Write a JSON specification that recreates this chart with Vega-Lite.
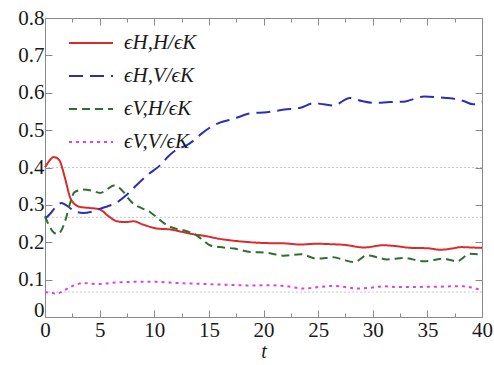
{
  "$schema": "https://vega.github.io/schema/vega-lite/v6.json",
  "width": 437,
  "height": 299,
  "autosize": {"type": "none"},
  "padding": {"left": 45, "top": 18, "right": 12, "bottom": 48},
  "config": {
    "view": {"stroke": "#8a8a8a", "strokeWidth": 1},
    "font": "Liberation Serif",
    "style": {"guide-label": {"font": "Liberation Serif"}, "guide-title": {"font": "Liberation Serif"}},
    "axis": {
      "grid": false,
      "domain": false,
      "tickColor": "#8a8a8a",
      "tickWidth": 1,
      "labelFont": "Liberation Serif",
      "labelFontSize": 21,
      "labelColor": "#1a1a1a",
      "labelPadding": 8,
      "titleFont": "Liberation Serif",
      "titleFontSize": 20,
      "titleFontWeight": "normal",
      "titleColor": "#1a1a1a"
    },
    "legend": {
      "orient": "none",
      "legendX": 23,
      "legendY": 2,
      "padding": 0,
      "symbolType": "stroke",
      "symbolSize": 1936,
      "symbolStrokeWidth": 2,
      "labelFont": "Liberation Serif",
      "labelFontStyle": "italic",
      "labelFontSize": 21,
      "labelColor": "#1a1a1a",
      "labelOffset": 10,
      "rowPadding": -18,
      "title": null
    }
  },
  "datasets": {
    "ref": [{"v": 0.4}, {"v": 0.2667}, {"v": 0.0667}],
    "curves": [
      {"series": "ϵH,H/ϵK", "t": 0, "value": 0.4},
      {"series": "ϵH,H/ϵK", "t": 0.4, "value": 0.418},
      {"series": "ϵH,H/ϵK", "t": 0.8, "value": 0.428},
      {"series": "ϵH,H/ϵK", "t": 1.3, "value": 0.42},
      {"series": "ϵH,H/ϵK", "t": 1.8, "value": 0.375},
      {"series": "ϵH,H/ϵK", "t": 2.3, "value": 0.32},
      {"series": "ϵH,H/ϵK", "t": 2.8, "value": 0.3},
      {"series": "ϵH,H/ϵK", "t": 3.3, "value": 0.294},
      {"series": "ϵH,H/ϵK", "t": 4, "value": 0.292},
      {"series": "ϵH,H/ϵK", "t": 5, "value": 0.288},
      {"series": "ϵH,H/ϵK", "t": 5.8, "value": 0.27},
      {"series": "ϵH,H/ϵK", "t": 6.6, "value": 0.256},
      {"series": "ϵH,H/ϵK", "t": 7.4, "value": 0.254},
      {"series": "ϵH,H/ϵK", "t": 8.1, "value": 0.256},
      {"series": "ϵH,H/ϵK", "t": 9, "value": 0.247},
      {"series": "ϵH,H/ϵK", "t": 10.2, "value": 0.237},
      {"series": "ϵH,H/ϵK", "t": 11.5, "value": 0.234},
      {"series": "ϵH,H/ϵK", "t": 12.5, "value": 0.228},
      {"series": "ϵH,H/ϵK", "t": 13.3, "value": 0.223},
      {"series": "ϵH,H/ϵK", "t": 14.8, "value": 0.216},
      {"series": "ϵH,H/ϵK", "t": 16, "value": 0.209},
      {"series": "ϵH,H/ϵK", "t": 17, "value": 0.205},
      {"series": "ϵH,H/ϵK", "t": 18.8, "value": 0.2},
      {"series": "ϵH,H/ϵK", "t": 20, "value": 0.198},
      {"series": "ϵH,H/ϵK", "t": 21.9, "value": 0.197},
      {"series": "ϵH,H/ϵK", "t": 23.4, "value": 0.194},
      {"series": "ϵH,H/ϵK", "t": 24.9, "value": 0.196},
      {"series": "ϵH,H/ϵK", "t": 26, "value": 0.195},
      {"series": "ϵH,H/ϵK", "t": 27.4, "value": 0.193},
      {"series": "ϵH,H/ϵK", "t": 29.2, "value": 0.186},
      {"series": "ϵH,H/ϵK", "t": 31, "value": 0.192},
      {"series": "ϵH,H/ϵK", "t": 32, "value": 0.19},
      {"series": "ϵH,H/ϵK", "t": 33.5, "value": 0.185},
      {"series": "ϵH,H/ϵK", "t": 35, "value": 0.184},
      {"series": "ϵH,H/ϵK", "t": 36.2, "value": 0.18},
      {"series": "ϵH,H/ϵK", "t": 37.2, "value": 0.183},
      {"series": "ϵH,H/ϵK", "t": 38.1, "value": 0.187},
      {"series": "ϵH,H/ϵK", "t": 39, "value": 0.186},
      {"series": "ϵH,H/ϵK", "t": 40, "value": 0.185},

      {"series": "ϵH,V/ϵK", "t": 0, "value": 0.263},
      {"series": "ϵH,V/ϵK", "t": 0.5, "value": 0.277},
      {"series": "ϵH,V/ϵK", "t": 1.0, "value": 0.295},
      {"series": "ϵH,V/ϵK", "t": 1.5, "value": 0.305},
      {"series": "ϵH,V/ϵK", "t": 2.0, "value": 0.298},
      {"series": "ϵH,V/ϵK", "t": 2.6, "value": 0.285},
      {"series": "ϵH,V/ϵK", "t": 3.5, "value": 0.278},
      {"series": "ϵH,V/ϵK", "t": 4.3, "value": 0.282},
      {"series": "ϵH,V/ϵK", "t": 5.05, "value": 0.29},
      {"series": "ϵH,V/ϵK", "t": 5.8, "value": 0.297},
      {"series": "ϵH,V/ϵK", "t": 6.6, "value": 0.307},
      {"series": "ϵH,V/ϵK", "t": 7.4, "value": 0.325},
      {"series": "ϵH,V/ϵK", "t": 8.1, "value": 0.345},
      {"series": "ϵH,V/ϵK", "t": 9, "value": 0.37},
      {"series": "ϵH,V/ϵK", "t": 9.6, "value": 0.385},
      {"series": "ϵH,V/ϵK", "t": 10.5, "value": 0.405},
      {"series": "ϵH,V/ϵK", "t": 11.3, "value": 0.43},
      {"series": "ϵH,V/ϵK", "t": 12, "value": 0.447},
      {"series": "ϵH,V/ϵK", "t": 13, "value": 0.46},
      {"series": "ϵH,V/ϵK", "t": 13.5, "value": 0.47},
      {"series": "ϵH,V/ϵK", "t": 14.3, "value": 0.49},
      {"series": "ϵH,V/ϵK", "t": 15, "value": 0.505},
      {"series": "ϵH,V/ϵK", "t": 16, "value": 0.52},
      {"series": "ϵH,V/ϵK", "t": 17, "value": 0.528},
      {"series": "ϵH,V/ϵK", "t": 18, "value": 0.538},
      {"series": "ϵH,V/ϵK", "t": 18.8, "value": 0.545},
      {"series": "ϵH,V/ϵK", "t": 20.3, "value": 0.548},
      {"series": "ϵH,V/ϵK", "t": 21.9, "value": 0.555},
      {"series": "ϵH,V/ϵK", "t": 23.4, "value": 0.56},
      {"series": "ϵH,V/ϵK", "t": 24.6, "value": 0.572},
      {"series": "ϵH,V/ϵK", "t": 25.5, "value": 0.569},
      {"series": "ϵH,V/ϵK", "t": 26.4, "value": 0.566},
      {"series": "ϵH,V/ϵK", "t": 27.9, "value": 0.586},
      {"series": "ϵH,V/ϵK", "t": 29, "value": 0.578},
      {"series": "ϵH,V/ϵK", "t": 30.1, "value": 0.573},
      {"series": "ϵH,V/ϵK", "t": 31.6, "value": 0.575},
      {"series": "ϵH,V/ϵK", "t": 32.8, "value": 0.576},
      {"series": "ϵH,V/ϵK", "t": 34.7, "value": 0.59},
      {"series": "ϵH,V/ϵK", "t": 36, "value": 0.588},
      {"series": "ϵH,V/ϵK", "t": 37.1, "value": 0.585},
      {"series": "ϵH,V/ϵK", "t": 38.3, "value": 0.578},
      {"series": "ϵH,V/ϵK", "t": 39.2, "value": 0.569},
      {"series": "ϵH,V/ϵK", "t": 40, "value": 0.576},

      {"series": "ϵV,H/ϵK", "t": 0, "value": 0.27},
      {"series": "ϵV,H/ϵK", "t": 0.46, "value": 0.24},
      {"series": "ϵV,H/ϵK", "t": 0.9, "value": 0.224},
      {"series": "ϵV,H/ϵK", "t": 1.2, "value": 0.222},
      {"series": "ϵV,H/ϵK", "t": 1.6, "value": 0.238},
      {"series": "ϵV,H/ϵK", "t": 1.95, "value": 0.267},
      {"series": "ϵV,H/ϵK", "t": 2.3, "value": 0.305},
      {"series": "ϵV,H/ϵK", "t": 2.7, "value": 0.334},
      {"series": "ϵV,H/ϵK", "t": 3.5, "value": 0.341},
      {"series": "ϵV,H/ϵK", "t": 4.3, "value": 0.338},
      {"series": "ϵV,H/ϵK", "t": 5.05, "value": 0.332},
      {"series": "ϵV,H/ϵK", "t": 5.7, "value": 0.342},
      {"series": "ϵV,H/ϵK", "t": 6.3, "value": 0.352},
      {"series": "ϵV,H/ϵK", "t": 6.8, "value": 0.346},
      {"series": "ϵV,H/ϵK", "t": 7.2, "value": 0.334},
      {"series": "ϵV,H/ϵK", "t": 7.6, "value": 0.318},
      {"series": "ϵV,H/ϵK", "t": 8.1, "value": 0.303},
      {"series": "ϵV,H/ϵK", "t": 8.8, "value": 0.292},
      {"series": "ϵV,H/ϵK", "t": 9.6, "value": 0.281},
      {"series": "ϵV,H/ϵK", "t": 10.3, "value": 0.265},
      {"series": "ϵV,H/ϵK", "t": 11.2, "value": 0.245},
      {"series": "ϵV,H/ϵK", "t": 12, "value": 0.236},
      {"series": "ϵV,H/ϵK", "t": 12.7, "value": 0.232},
      {"series": "ϵV,H/ϵK", "t": 13.3, "value": 0.226},
      {"series": "ϵV,H/ϵK", "t": 13.9, "value": 0.218},
      {"series": "ϵV,H/ϵK", "t": 14.5, "value": 0.205},
      {"series": "ϵV,H/ϵK", "t": 15.1, "value": 0.192},
      {"series": "ϵV,H/ϵK", "t": 16, "value": 0.187},
      {"series": "ϵV,H/ϵK", "t": 17.3, "value": 0.183},
      {"series": "ϵV,H/ϵK", "t": 18.8, "value": 0.174},
      {"series": "ϵV,H/ϵK", "t": 20.3, "value": 0.172},
      {"series": "ϵV,H/ϵK", "t": 21.9, "value": 0.164},
      {"series": "ϵV,H/ϵK", "t": 23.4, "value": 0.168},
      {"series": "ϵV,H/ϵK", "t": 24.9, "value": 0.156},
      {"series": "ϵV,H/ϵK", "t": 26.4, "value": 0.16},
      {"series": "ϵV,H/ϵK", "t": 27.3, "value": 0.153},
      {"series": "ϵV,H/ϵK", "t": 28.3, "value": 0.147},
      {"series": "ϵV,H/ϵK", "t": 29.5, "value": 0.165},
      {"series": "ϵV,H/ϵK", "t": 30.4, "value": 0.16},
      {"series": "ϵV,H/ϵK", "t": 31.3, "value": 0.154},
      {"series": "ϵV,H/ϵK", "t": 32.8, "value": 0.158},
      {"series": "ϵV,H/ϵK", "t": 34.7, "value": 0.149},
      {"series": "ϵV,H/ϵK", "t": 36.5, "value": 0.156},
      {"series": "ϵV,H/ϵK", "t": 37.7, "value": 0.149},
      {"series": "ϵV,H/ϵK", "t": 38.9, "value": 0.169},
      {"series": "ϵV,H/ϵK", "t": 39.8, "value": 0.167},
      {"series": "ϵV,H/ϵK", "t": 40, "value": 0.166},

      {"series": "ϵV,V/ϵK", "t": 0, "value": 0.067},
      {"series": "ϵV,V/ϵK", "t": 1.1, "value": 0.063},
      {"series": "ϵV,V/ϵK", "t": 1.7, "value": 0.07},
      {"series": "ϵV,V/ϵK", "t": 2.3, "value": 0.08},
      {"series": "ϵV,V/ϵK", "t": 3, "value": 0.088},
      {"series": "ϵV,V/ϵK", "t": 3.5, "value": 0.091},
      {"series": "ϵV,V/ϵK", "t": 4.2, "value": 0.089},
      {"series": "ϵV,V/ϵK", "t": 5.05, "value": 0.088},
      {"series": "ϵV,V/ϵK", "t": 6, "value": 0.091},
      {"series": "ϵV,V/ϵK", "t": 7, "value": 0.093},
      {"series": "ϵV,V/ϵK", "t": 8.1, "value": 0.094},
      {"series": "ϵV,V/ϵK", "t": 9, "value": 0.094},
      {"series": "ϵV,V/ϵK", "t": 10.2, "value": 0.094},
      {"series": "ϵV,V/ϵK", "t": 11.5, "value": 0.092},
      {"series": "ϵV,V/ϵK", "t": 12.7, "value": 0.09},
      {"series": "ϵV,V/ϵK", "t": 14, "value": 0.089},
      {"series": "ϵV,V/ϵK", "t": 15.7, "value": 0.087},
      {"series": "ϵV,V/ϵK", "t": 17, "value": 0.086},
      {"series": "ϵV,V/ϵK", "t": 18.8, "value": 0.084},
      {"series": "ϵV,V/ϵK", "t": 20.3, "value": 0.085},
      {"series": "ϵV,V/ϵK", "t": 21.9, "value": 0.083},
      {"series": "ϵV,V/ϵK", "t": 23.7, "value": 0.076},
      {"series": "ϵV,V/ϵK", "t": 25, "value": 0.08},
      {"series": "ϵV,V/ϵK", "t": 26.4, "value": 0.083},
      {"series": "ϵV,V/ϵK", "t": 27.5, "value": 0.08},
      {"series": "ϵV,V/ϵK", "t": 28.6, "value": 0.076},
      {"series": "ϵV,V/ϵK", "t": 30, "value": 0.079},
      {"series": "ϵV,V/ϵK", "t": 31, "value": 0.082},
      {"series": "ϵV,V/ϵK", "t": 32.3, "value": 0.08},
      {"series": "ϵV,V/ϵK", "t": 33.5, "value": 0.08},
      {"series": "ϵV,V/ϵK", "t": 35, "value": 0.081},
      {"series": "ϵV,V/ϵK", "t": 36, "value": 0.081},
      {"series": "ϵV,V/ϵK", "t": 37.1, "value": 0.082},
      {"series": "ϵV,V/ϵK", "t": 38.3, "value": 0.082},
      {"series": "ϵV,V/ϵK", "t": 39.2, "value": 0.078},
      {"series": "ϵV,V/ϵK", "t": 39.8, "value": 0.074},
      {"series": "ϵV,V/ϵK", "t": 40, "value": 0.074}
    ]
  },
  "layer": [
    {
      "data": {"name": "ref"},
      "mark": {"type": "rule", "color": "#c8c8c8", "strokeDash": [2, 2], "strokeWidth": 1},
      "encoding": {
        "y": {"field": "v", "type": "quantitative", "scale": {"domain": [0, 0.8], "nice": false}, "axis": null}
      }
    },
    {
      "data": {"name": "curves"},
      "mark": {"type": "line", "interpolate": "monotone", "strokeWidth": 2},
      "encoding": {
        "x": {
          "field": "t", "type": "quantitative",
          "scale": {"domain": [0, 40], "nice": false},
          "axis": {
            "orient": "bottom",
            "values": [0, 2.5, 5, 7.5, 10, 12.5, 15, 17.5, 20, 22.5, 25, 27.5, 30, 32.5, 35, 37.5, 40],
            "labelExpr": "datum.value % 5 === 0 ? format(datum.value, 'd') : ''",
            "tickSize": {"condition": {"test": "datum.value % 5 === 0", "value": -7}, "value": -4},
            "labelFlush": false,
            "labelPadding": 9,
            "title": "t",
            "titleFontStyle": "italic",
            "titlePadding": 1
          }
        },
        "y": {
          "field": "value", "type": "quantitative",
          "scale": {"domain": [0, 0.8], "nice": false},
          "axis": {
            "orient": "left",
            "values": [0, 0.1, 0.2, 0.3, 0.4, 0.5, 0.6, 0.7, 0.8],
            "labelExpr": "datum.value === 0 ? '0' : format(datum.value, '.1f')",
            "labelOffset": {"condition": {"test": "datum.value === 0", "value": -7}, "value": 0},
            "tickSize": -7,
            "labelFlush": false,
            "title": null
          }
        },
        "color": {
          "field": "series", "type": "nominal",
          "scale": {"domain": ["ϵH,H/ϵK", "ϵH,V/ϵK", "ϵV,H/ϵK", "ϵV,V/ϵK"], "range": ["#d92b2b", "#2a2fb8", "#2e6e2e", "#e040e0"]},
          "legend": {"title": null}
        },
        "strokeDash": {
          "field": "series", "type": "nominal",
          "scale": {"domain": ["ϵH,H/ϵK", "ϵH,V/ϵK", "ϵV,H/ϵK", "ϵV,V/ϵK"], "range": [[1, 0], [14, 7], [8, 5], [3, 4]]},
          "legend": {"title": null}
        }
      }
    },
    {
      "data": {"name": "curves"},
      "mark": {"type": "line", "opacity": 0},
      "encoding": {
        "x": {
          "field": "t", "type": "quantitative",
          "axis": {
            "orient": "top",
            "values": [0, 2.5, 5, 7.5, 10, 12.5, 15, 17.5, 20, 22.5, 25, 27.5, 30, 32.5, 35, 37.5, 40],
            "labels": false,
            "tickSize": {"condition": {"test": "datum.value % 5 === 0", "value": -7}, "value": -4},
            "title": null
          }
        },
        "y": {
          "field": "value", "type": "quantitative",
          "axis": {
            "orient": "right",
            "values": [0, 0.1, 0.2, 0.3, 0.4, 0.5, 0.6, 0.7, 0.8],
            "labels": false,
            "tickSize": -7,
            "title": null
          }
        },
        "detail": {"field": "series", "type": "nominal"}
      }
    }
  ],
  "resolve": {"axis": {"x": "independent", "y": "independent"}}
}
